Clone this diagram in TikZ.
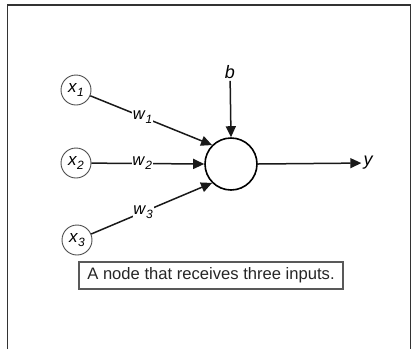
\documentclass[tikz,border=0pt]{standalone}
\usepackage{fontspec}
\setmainfont{Liberation Sans}
\usetikzlibrary{arrows.meta}
\newcommand{\vlab}[2]{\textit{#1}\raisebox{-0.45ex}{\fontsize{12}{12}\selectfont\textit{#2}}}
\begin{document}
\begin{tikzpicture}[x=1pt,y=-1pt,
  inp/.style={draw=black!70,line width=0.9pt,circle,minimum size=30pt,inner sep=0pt,font=\fontsize{17}{17}\selectfont},
  neuron/.style={draw,line width=1.6pt,circle,minimum size=52pt,inner sep=0pt},
  conn/.style={line width=1.5pt,draw=black!90,-{Triangle[length=11pt,width=10pt]}},
  wlab/.style={fill=white,inner sep=0.6pt,font=\fontsize{16.5}{16.5}\selectfont},
  olab/.style={inner sep=2pt,font=\fontsize{18}{18}\selectfont\itshape},
  caption/.style={draw=black!65,line width=1.2pt,inner xsep=4pt,minimum width=264pt,minimum height=27pt,font=\fontsize{16.6}{16.6}\selectfont,text=black!85}
]
\useasboundingbox (0,0) rectangle (412,349);
\draw[black!80,line width=1.3pt] (7.5,349) -- (7.5,5) -- (410.5,5) -- (410.5,349);
\node[neuron] (c) at (231,164) {};
\node[inp] (x1) at (76,90) {\vlab{x}{1}};
\node[inp] (x2) at (76,163) {\vlab{x}{2}};
\node[inp] (x3) at (77,240) {\vlab{x}{3}};
\node[olab] (b) at (230,72) {b};
\node[olab] (y) at (368,163) {y};
\draw[conn] (x1) -- node[wlab,pos=0.43] {\vlab{w}{1}} (c.135);
\draw[conn] (x2) -- node[wlab,pos=0.45] {\vlab{w}{2}} (c.west);
\draw[conn] (x3) -- node[wlab,pos=0.43] {\vlab{w}{3}} (c.225);
\draw[conn] (b) -- (c.north);
\draw[conn] (c.east) -- (y);
\node[caption] (cap) at (211,275.5) {A node that receives three inputs.};
\end{tikzpicture}
\end{document}
